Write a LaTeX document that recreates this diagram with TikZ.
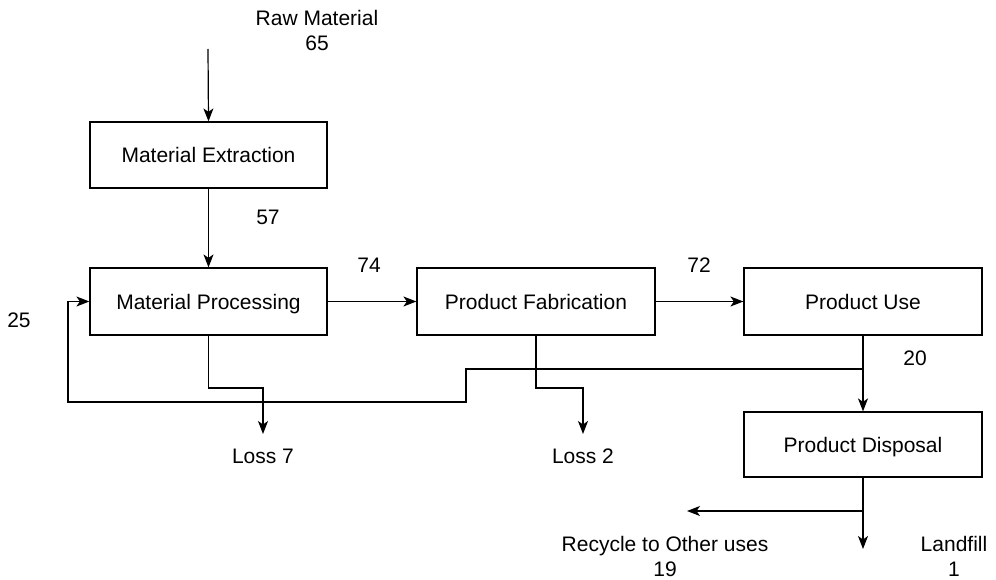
\documentclass[tikz,border=0pt]{standalone}
\usepackage{fontspec}
\setmainfont{Liberation Sans}
\usetikzlibrary{arrows.meta}
\begin{document}
\begin{tikzpicture}[x=1pt,y=-1pt,
  box/.style={draw, line width=1.2pt, minimum width=237pt, inner sep=0pt, text height=15pt, text depth=0pt, font=\fontsize{21}{24}\selectfont},
  lbl/.style={inner sep=0pt, align=center, font=\fontsize{21}{25}\selectfont},
  flow/.style={line width=1.2pt, -{Stealth[length=13pt,width=10pt,inset=3.5pt]}},
  line/.style={line width=1.2pt}]
\useasboundingbox (0,0) rectangle (996,580);
% boxes
\node[box, minimum height=66pt] (me) at (208.5,155) {Material Extraction};
\node[box, minimum height=67pt] (mp) at (208.5,301.5) {Material Processing};
\node[box, minimum height=67pt, minimum width=238pt] (pf) at (536,301.5) {Product Fabrication};
\node[box, minimum height=67pt, minimum width=238pt] (pu) at (863,301.5) {Product Use};
\node[box, minimum height=65pt, minimum width=238pt] (pd) at (863,444.5) {Product Disposal};
% labels
\node[lbl] (raw) at (317,30) {Raw Material\\65};
\node[lbl] (l57) at (268,217) {57};
\node[lbl] (l74) at (369,265) {74};
\node[lbl] (l72) at (699,265) {72};
\node[lbl] (l25) at (19,320) {25};
\node[lbl] (l20) at (915,358) {20};
\node[lbl] (loss7) at (263,456) {Loss 7};
\node[lbl] (loss2) at (583,456) {Loss 2};
\node[lbl] (rec) at (665,556) {Recycle to Other uses\\19};
\node[lbl] (land) at (954,556) {Landfill\\1};
% free ends
\coordinate (rawend) at (208,49);
\coordinate (l7end) at (263,434);
\coordinate (l2end) at (583,434);
\coordinate (j) at (863,369);
\coordinate (b) at (863,511);
\coordinate (landend) at (863,549);
\coordinate (recend) at (687,511);
% connectors
\draw[flow] (rawend) -- (me.north);
\draw[flow] (me.south) -- (mp.north);
\draw[flow] (mp.east) -- (pf.west);
\draw[flow] (pf.east) -- (pu.west);
\draw[flow] (pu.south) -- (pd.north);
\draw[flow] (mp.south) |- (263,388) -- (l7end);
\draw[flow] (pf.south) |- (583,388) -- (l2end);
\draw[flow] (j) -- (466,369) -- (466,402) -- (68,402) -- (68,301.5) -- (mp.west);
\draw[flow] (pd.south) -- (landend);
\draw[flow] (b) -- (recend);
\end{tikzpicture}
\end{document}
